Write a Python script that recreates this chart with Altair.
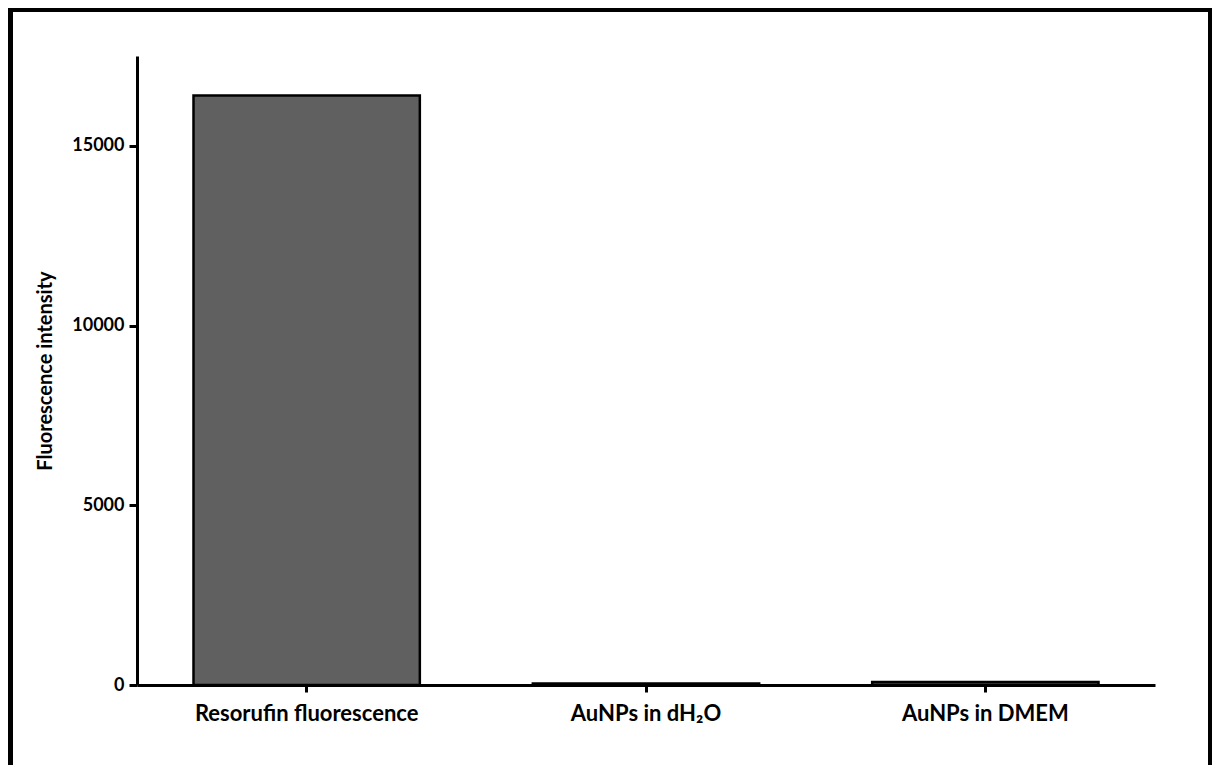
import altair as alt
import pandas as pd

categories = ["Resorufin fluorescence", "AuNPs in dH₂O", "AuNPs in DMEM"]
values = [16400, 40, 80]
y_ticks = [0, 5000, 10000, 15000]

df = pd.DataFrame({"category": categories, "value": values})

FONT = "Lato"

bars = alt.Chart(df).mark_bar(
    fill="#606060", stroke="black", strokeWidth=2.5
).encode(
    x=alt.X("category:N", sort=categories,
            scale=alt.Scale(paddingInner=0.333, paddingOuter=0.1665),
            axis=alt.Axis(title=None, labelAngle=0, domainWidth=3, domainColor="black",
                          tickWidth=3, tickColor="black", tickSize=7, labelLimit=0,
                          labelPadding=11, labelFont=FONT, labelFontSize=22,
                          labelFontWeight="bold", labelColor="black")),
    y=alt.Y("value:Q", scale=alt.Scale(domain=[0, 17500], nice=False),
            axis=alt.Axis(title="Fluorescence intensity", values=y_ticks, grid=False,
                          format="d", domainWidth=3, domainColor="black", tickWidth=3,
                          tickColor="black", tickSize=8, labelPadding=5,
                          labelFont=FONT, labelFontSize=18, labelFontWeight="bold",
                          labelColor="black", titleFont=FONT, titleFontSize=20,
                          titleFontWeight="bold", titleColor="black",
                          titleX=-92, titleY=314.5, titleAngle=270,
                          titleBaseline="middle", titleAlign="center")),
)

frame_data = alt.Data(values=[{}])
left_edge = alt.Chart(frame_data).mark_rule(color="black", strokeWidth=6).encode(
    x=alt.value(-127), y=alt.value(-50), y2=alt.value(730))
right_edge = alt.Chart(frame_data).mark_rule(color="black", strokeWidth=6).encode(
    x=alt.value(1074), y=alt.value(-50), y2=alt.value(730))
top_edge = alt.Chart(frame_data).mark_rule(color="black", strokeWidth=6).encode(
    x=alt.value(-130), x2=alt.value(1077), y=alt.value(-47))

chart = alt.layer(bars, left_edge, right_edge, top_edge).properties(
    width=1018, height=629,
    autosize=alt.AutoSizeParams(type="none"),
    padding={"left": 129, "top": 48, "right": 57, "bottom": 85},
    background="white",
).configure_view(strokeWidth=0, stroke="transparent")

chart.save("out.html", embed_options={"renderer": "svg", "actions": False})
